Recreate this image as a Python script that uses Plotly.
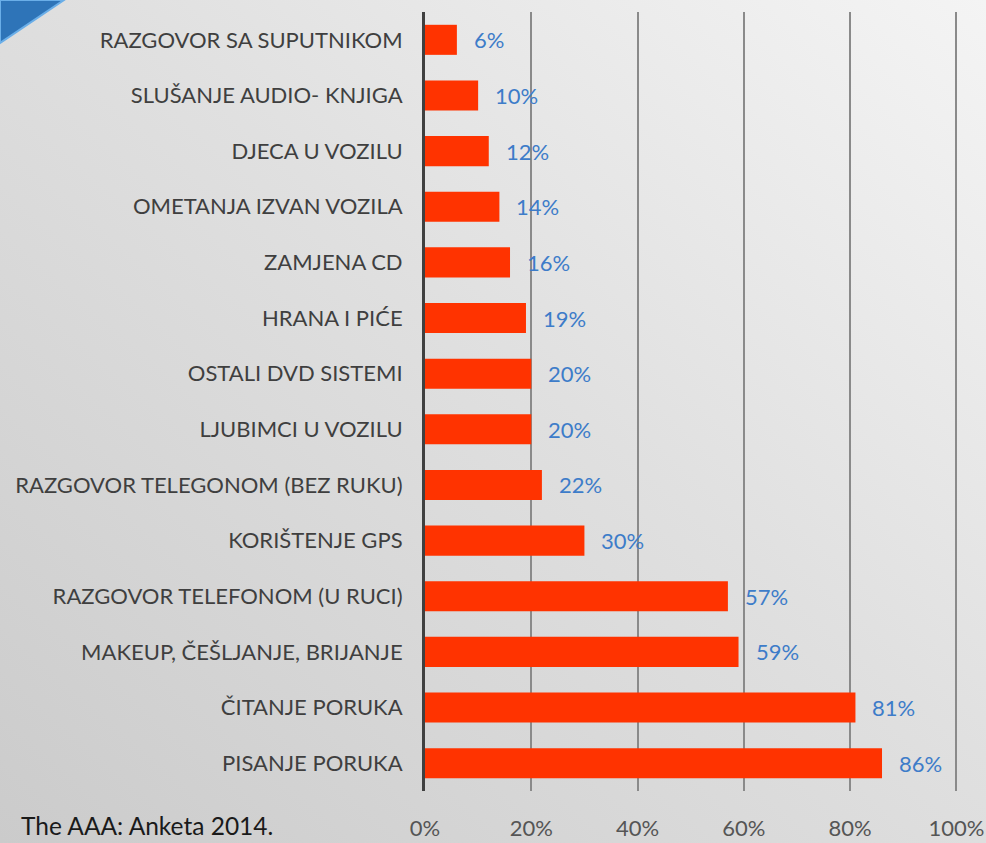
import base64
import plotly.graph_objects as go

categories = [
    "RAZGOVOR SA SUPUTNIKOM",
    "SLUŠANJE AUDIO- KNJIGA",
    "DJECA U VOZILU",
    "OMETANJA IZVAN VOZILA",
    "ZAMJENA CD",
    "HRANA I PIĆE",
    "OSTALI DVD SISTEMI",
    "LJUBIMCI U VOZILU",
    "RAZGOVOR TELEGONOM (BEZ RUKU)",
    "KORIŠTENJE GPS",
    "RAZGOVOR TELEFONOM (U RUCI)",
    "MAKEUP, ČEŠLJANJE, BRIJANJE",
    "ČITANJE PORUKA",
    "PISANJE PORUKA",
]
values = [6, 10, 12, 14, 16, 19, 20, 20, 22, 30, 57, 59, 81, 86]
x_ticks = [0, 20, 40, 60, 80, 100]
x_tick_labels = ["0%", "20%", "40%", "60%", "80%", "100%"]
source_note = "The AAA: Anketa 2014."

W, H = 986, 843
ML, MR, MT, MB = 425, 28, 12, 52
PW, PH = W - ML - MR, H - MT - MB

FONT = "Lato, Carlito, Calibri, sans-serif"


def px2paper(px, py):
    return (px - ML) / PW, (H - MB - py) / PH


svg = f"""<svg xmlns='http://www.w3.org/2000/svg' width='{W}' height='{H}'>
<defs><linearGradient id='g' x1='1' y1='0' x2='0' y2='1'>
<stop offset='0' stop-color='#f4f4f4'/>
<stop offset='0.45' stop-color='#e0e0e0'/>
<stop offset='1' stop-color='#cbcbcb'/>
</linearGradient></defs>
<rect width='{W}' height='{H}' fill='url(#g)'/></svg>"""
bg_src = "data:image/svg+xml;base64," + base64.b64encode(svg.encode()).decode()

fig = go.Figure()
fig.add_trace(go.Bar(
    x=values,
    y=categories,
    orientation="h",
    marker=dict(color="#ff3300", line=dict(width=0)),
    width=0.54,
    hoverinfo="x+y",
))

annotations = []
for c, v in zip(categories, values):
    annotations.append(dict(
        x=v, y=c, xref="x", yref="y", text=f"{v}%", showarrow=False,
        xanchor="left", yanchor="middle", xshift=15, yshift=0,
        font=dict(family=FONT, size=22, color="#3d7cc9"),
    ))

nx, ny = px2paper(19, 826)
annotations.append(dict(
    x=nx, y=ny, xref="paper", yref="paper", text=source_note, showarrow=False,
    xanchor="left", yanchor="middle",
    font=dict(family=FONT, size=24.5, color="#1a1a1a"),
))

# corner ribbon
p0 = px2paper(0, 0)
p1 = px2paper(64, 0)
p2 = px2paper(0, 43)
shapes = [
    dict(type="path", xref="paper", yref="paper",
         path=f"M {p0[0]},{p0[1]} L {p1[0]},{p1[1]} L {p2[0]},{p2[1]} Z",
         fillcolor="#2e74b8", line=dict(color="#6aaee8", width=2), layer="above"),
]

fig.update_layout(
    width=W, height=H,
    autosize=False,
    margin=dict(l=ML, r=MR, t=MT, b=MB, pad=0, autoexpand=False),
    paper_bgcolor="#dedede",
    plot_bgcolor="rgba(0,0,0,0)",
    showlegend=False,
    bargap=0.46,
    annotations=annotations,
    shapes=shapes,
    images=[dict(
        source=bg_src, xref="paper", yref="paper",
        x=-ML / PW, y=1 + MT / PH, sizex=W / PW, sizey=H / PH,
        xanchor="left", yanchor="top", sizing="stretch", layer="below",
    )],
    xaxis=dict(
        range=[0, 100.3],
        tickvals=x_ticks, ticktext=x_tick_labels,
        showgrid=True, gridcolor="#8a8a8a", gridwidth=1.5,
        zeroline=False, showline=False,
        ticks="outside", ticklen=18, tickcolor="rgba(0,0,0,0)",
        tickfont=dict(family=FONT, size=22, color="#555555"),
        automargin=False,
        fixedrange=True,
    ),
    yaxis=dict(
        categoryorder="array", categoryarray=categories,
        autorange="reversed",
        showgrid=False, zeroline=False,
        showline=True, linecolor="#404040", linewidth=3,
        ticks="outside", ticklen=15, tickcolor="rgba(0,0,0,0)",
        tickfont=dict(family=FONT, size=22, color="#3f3f3f"),
        automargin=False,
        fixedrange=True,
    ),
)

fig.write_html(
    "out.html",
    config={"displayModeBar": False},
    post_script="document.body.style.margin='0';document.body.style.overflow='hidden';",
)
